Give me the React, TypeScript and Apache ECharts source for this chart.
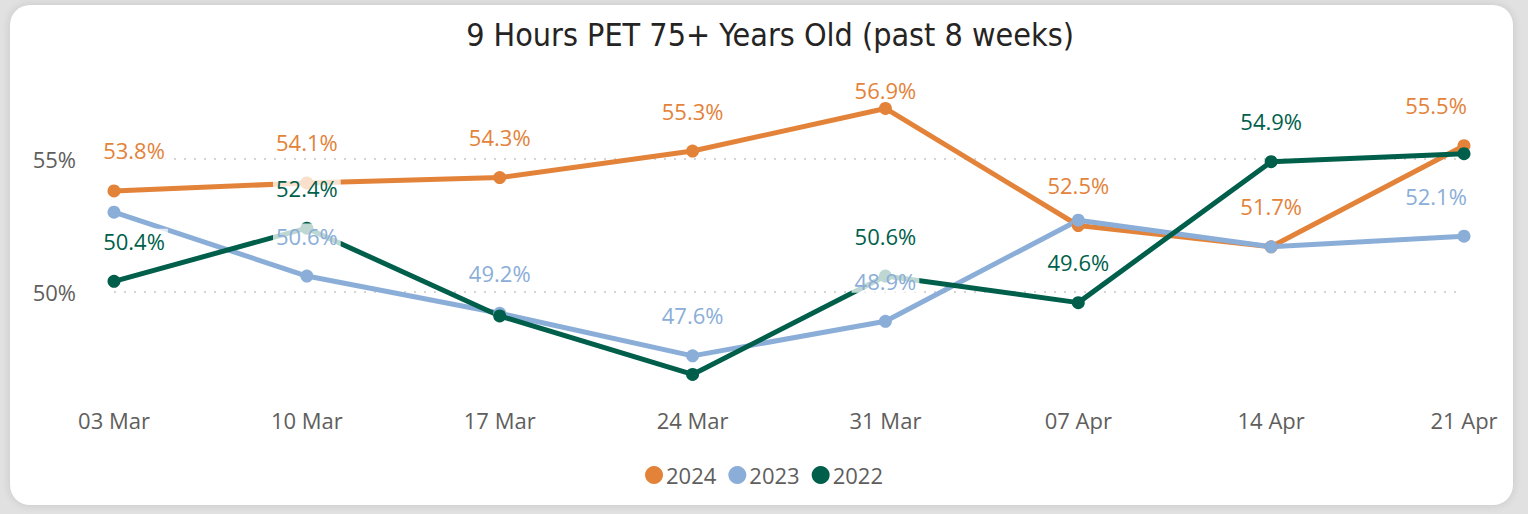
import React, { useEffect, useRef } from "react";
import * as echarts from "echarts";

const categories = ["03 Mar", "10 Mar", "17 Mar", "24 Mar", "31 Mar", "07 Apr", "14 Apr", "21 Apr"];
const values2024 = [53.8, 54.1, 54.3, 55.3, 56.9, 52.5, 51.7, 55.5];
const values2023 = [53.0, 50.6, 49.2, 47.6, 48.9, 52.7, 51.7, 52.1];
const values2022 = [50.4, 52.4, 49.1, 46.9, 50.6, 49.6, 54.9, 55.2];
const hidden2024: number[] = [];
const hidden2023 = [0, 5, 6];
const hidden2022 = [2, 3, 7];
const seriesNames = ["2024", "2023", "2022"];
const colors = ["#E3833A", "#8BAED8", "#005F4B"];
const title = "9 Hours PET 75+ Years Old (past 8 weeks)";

const FONT = "'Open Sans', 'Noto Sans', sans-serif";

function buildData(values: number[], hidden: number[]) {
  return values.map((v, i) => {
    const item: any = { value: v };
    if (hidden.includes(i)) item.label = { show: false };
    return item;
  });
}

export default function App() {
  const ref = useRef<HTMLDivElement>(null);
  useEffect(() => {
    if (!ref.current) return;
    const chart = echarts.init(ref.current, undefined, { renderer: "svg" });
    const all = [values2024, values2023, values2022];
    const hid = [hidden2024, hidden2023, hidden2022];
    const last = categories.length - 1;
    chart.setOption({
      animation: false,
      title: {
        text: title,
        left: 765,
        textAlign: "center",
        top: 14,
        textStyle: {
          fontFamily: "'DejaVu Sans Condensed', 'Liberation Sans Narrow', sans-serif",
          fontSize: 32,
          fontWeight: "normal",
          color: "#252423",
        },
      },
      legend: {
        data: seriesNames,
        left: "center",
        top: 459,
        icon: "circle",
        itemWidth: 18,
        itemHeight: 18,
        itemGap: 12,
        textStyle: { fontFamily: FONT, fontSize: 22, color: "#605E5C", padding: [0, 0, 0, -2] },
      },
      grid: { left: 114, right: 64, top: 26, bottom: 89 },
      xAxis: {
        type: "category",
        data: categories,
        boundaryGap: false,
        axisLine: { show: false },
        axisTick: { show: false },
        axisLabel: { margin: -16, fontFamily: FONT, fontSize: 22, color: "#605E5C" },
      },
      yAxis: {
        type: "value",
        min: 45,
        max: 60,
        interval: 5,
        axisLine: { show: false },
        axisTick: { show: false },
        axisLabel: {
          showMinLabel: false,
          showMaxLabel: false,
          margin: 38,
          fontFamily: FONT,
          fontSize: 22,
          color: "#605E5C",
          formatter: (v: number) => `${v}%`,
        },
        splitLine: {
          showMinLine: false,
          showMaxLine: false,
          lineStyle: { type: [2, 8], color: "#C8C6C4", width: 1.5 },
        },
      },
      series: seriesNames.map((name, s) => ({
        name,
        type: "line",
        data: buildData(all[s], hid[s]),
        color: colors[s],
        symbol: "circle",
        symbolSize: 13,
        lineStyle: { width: 5, color: colors[s] },
        itemStyle: { color: colors[s] },
        label: {
          show: true,
          position: "top",
          distance: 22,
          color: colors[s],
          fontFamily: FONT,
          fontSize: 22,
          backgroundColor: "rgba(255,255,255,0.75)",
          padding: [1, 3],
          formatter: (p: any) => `${Number(p.value).toFixed(1)}%`,
        },
        labelLayout: (p: any) => {
          if (p.dataIndex === 0) return { dx: 20, hideOverlap: false };
          if (p.dataIndex === last) return { dx: -28, hideOverlap: false };
          if (p.seriesIndex === 0 && p.dataIndex === 4) return { dy: 22, hideOverlap: false };
          return { hideOverlap: false };
        },
        emphasis: { disabled: true },
      })),
    });
    return () => chart.dispose();
  }, []);

  return (
    <div style={{ position: "fixed", left: 0, top: 0, width: 1528, height: 514, background: "#E1E1E1", overflow: "hidden" }}>
      <div
        style={{
          position: "absolute",
          left: 10,
          top: 5,
          width: 1503,
          height: 500,
          background: "#FFFFFF",
          borderRadius: 20,
          boxShadow: "0 0 10px rgba(0,0,0,0.12)",
        }}
      />
      <div ref={ref} style={{ position: "absolute", left: 0, top: 0, width: 1528, height: 514 }} />
    </div>
  );
}
